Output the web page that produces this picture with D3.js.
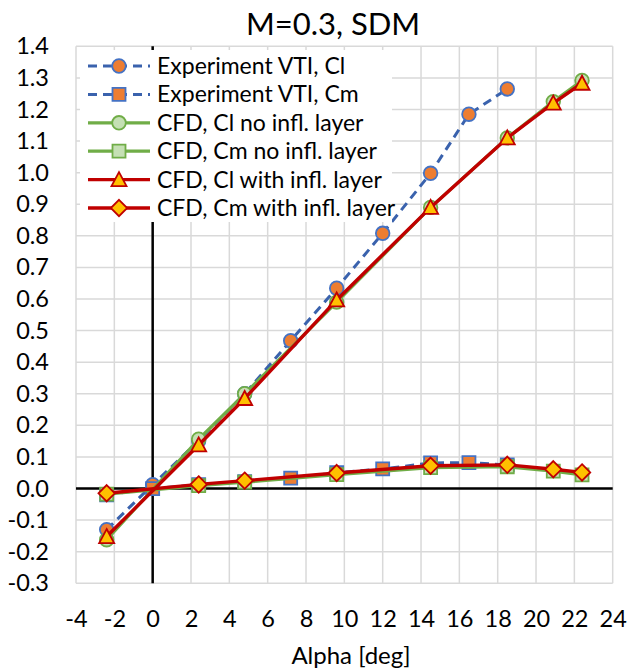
<!DOCTYPE html>
<html>
<head>
<meta charset="utf-8">
<script src="https://cdnjs.cloudflare.com/ajax/libs/d3/7.8.5/d3.min.js"></script>
<style>
  html, body { margin: 0; padding: 0; background: #fff; }
  svg { display: block; }
  text { font-family: Lato, "Open Sans", sans-serif; fill: #000; }
</style>
</head>
<body>
<svg id="chart" width="627" height="672"></svg>
<script>
// ---- data ----
const titleText = "M=0.3, SDM";
const xTitle = "Alpha [deg]";
const xTicks = [-4, -2, 0, 2, 4, 6, 8, 10, 12, 14, 16, 18, 20, 22, 24];
const yTicks = [-0.3, -0.2, -0.1, 0.0, 0.1, 0.2, 0.3, 0.4, 0.5, 0.6, 0.7, 0.8, 0.9, 1.0, 1.1, 1.2, 1.3, 1.4];

const alphaExp = [-2.4, 0, 2.4, 4.8, 7.2, 9.6, 12.0, 14.5, 16.5, 18.5];
const clExp = [-0.13, 0.012, 0.151, 0.30, 0.468, 0.634, 0.808, 0.998, 1.185, 1.265];
const cmExp = [-0.02, 0.0, 0.012, 0.022, 0.033, 0.05, 0.062, 0.081, 0.082, 0.075];

const alphaCfd = [-2.4, 2.4, 4.8, 9.6, 14.5, 18.5, 20.9, 22.4];
const clNoLayer = [-0.162, 0.156, 0.30, 0.59, 0.89, 1.11, 1.225, 1.292];
const cmNoLayer = [-0.018, 0.009, 0.02, 0.044, 0.066, 0.069, 0.055, 0.043];
const clWithLayer = [-0.152, 0.138, 0.285, 0.597, 0.89, 1.11, 1.22, 1.283];
const cmWithLayer = [-0.015, 0.013, 0.025, 0.049, 0.072, 0.075, 0.061, 0.051];

const seriesNames = [
  "Experiment VTI, Cl",
  "Experiment VTI, Cm",
  "CFD, Cl no infl. layer",
  "CFD, Cm no infl. layer",
  "CFD, Cl with infl. layer",
  "CFD, Cm with infl. layer"
];

// ---- styles ----
const styles = [
  {line: "#3a62ad", width: 3, dash: "9,6", marker: "circle", fill: "#ed7d31", stroke: "#4472c4"},
  {line: "#3a62ad", width: 3, dash: "9,6", marker: "square", fill: "#ed7d31", stroke: "#4472c4"},
  {line: "#70ad47", width: 3.2, dash: null, marker: "circle", fill: "#c5e0b4", stroke: "#70ad47"},
  {line: "#70ad47", width: 3.2, dash: null, marker: "square", fill: "#c5e0b4", stroke: "#70ad47"},
  {line: "#c00000", width: 3.4, dash: null, marker: "triangle", fill: "#ffc000", stroke: "#c00000"},
  {line: "#c00000", width: 3.4, dash: null, marker: "diamond", fill: "#ffc000", stroke: "#c00000"}
];

const series = [
  {x: alphaExp, y: clExp},
  {x: alphaExp, y: cmExp},
  {x: alphaCfd, y: clNoLayer},
  {x: alphaCfd, y: cmNoLayer},
  {x: alphaCfd, y: clWithLayer},
  {x: alphaCfd, y: cmWithLayer}
];

(function () {
const svg = d3.select("#chart");
const pLeft = 76, pRight = 612.7, pTop = 46.3, pBottom = 583.3;
const x = d3.scaleLinear().domain([-4, 24]).range([pLeft, pRight]);
const y = d3.scaleLinear().domain([-0.3, 1.4]).range([pBottom, pTop]);

// grid
const grid = svg.append("g");
grid.selectAll("line.v").data(xTicks).enter().append("line")
  .attr("x1", d => x(d)).attr("x2", d => x(d)).attr("y1", pTop).attr("y2", pBottom)
  .attr("stroke", "#d9d9d9").attr("stroke-width", 1.5);
grid.selectAll("line.h").data(yTicks).enter().append("line")
  .attr("x1", pLeft).attr("x2", pRight).attr("y1", d => y(d)).attr("y2", d => y(d))
  .attr("stroke", "#d9d9d9").attr("stroke-width", 1.5);

// zero axes
svg.append("line").attr("x1", pLeft).attr("x2", pRight).attr("y1", y(0)).attr("y2", y(0))
  .attr("stroke", "#000").attr("stroke-width", 2.5);
svg.append("line").attr("x1", x(0)).attr("x2", x(0)).attr("y1", pTop).attr("y2", pBottom)
  .attr("stroke", "#000").attr("stroke-width", 2.5);

// tick labels
const fmtY = d => (d < 0 ? "-" : "") + Math.abs(d).toFixed(1);
const fmtX = d => (d < 0 ? "-" : "") + Math.abs(d);
const yAxis = svg.append("g").attr("transform", "translate(49,0)")
  .call(d3.axisLeft(y).tickValues(yTicks).tickFormat(fmtY).tickSize(0).tickPadding(0));
yAxis.select(".domain").remove();
yAxis.selectAll("text").attr("font-size", 23.5).attr("font-family", "Lato").attr("fill", "#000");

const xAxis = svg.append("g").attr("transform", "translate(0,610)")
  .call(d3.axisBottom(x).tickValues(xTicks).tickFormat(fmtX).tickSize(0).tickPadding(0));
xAxis.select(".domain").remove();
xAxis.selectAll("text").attr("font-size", 23.5).attr("font-family", "Lato").attr("fill", "#000");

// markers
function markerPath(type) {
  if (type === "circle") return d3.symbol(d3.symbolCircle, Math.PI * 6.8 * 6.8)();
  if (type === "square") return "M-6.5,-6.5H6.5V6.5H-6.5Z";
  if (type === "triangle") return "M0,-7.5L7.5,6.5L-7.5,6.5Z";
  if (type === "diamond") return "M0,-8.2L8.2,0L0,8.2L-8.2,0Z";
}

const plot = svg.append("g");
series.forEach((s, i) => {
  const st = styles[i];
  const pts = s.x.map((v, k) => [v, s.y[k]]);
  const g = plot.append("g");
  g.append("path").datum(pts)
    .attr("d", d3.line().x(d => x(d[0])).y(d => y(d[1])))
    .attr("fill", "none").attr("stroke", st.line).attr("stroke-width", st.width)
    .attr("stroke-dasharray", st.dash).attr("stroke-linejoin", "round");
  g.selectAll("path.m").data(pts).enter().append("path")
    .attr("d", markerPath(st.marker))
    .attr("transform", d => `translate(${x(d[0])},${y(d[1])})`)
    .attr("fill", st.fill).attr("stroke", st.stroke).attr("stroke-width", 1.8);
});

// legend
const leg = svg.append("g");
leg.append("rect").attr("x", 80).attr("y", 50).attr("width", 312).attr("height", 172).attr("fill", "#fff");
seriesNames.forEach((name, i) => {
  const st = styles[i];
  const cy = 66 + i * 28.4;
  leg.append("line").attr("x1", 88).attr("x2", 150).attr("y1", cy).attr("y2", cy)
    .attr("stroke", st.line).attr("stroke-width", st.width).attr("stroke-dasharray", st.dash);
  leg.append("path").attr("d", markerPath(st.marker))
    .attr("transform", `translate(119,${cy})`)
    .attr("fill", st.fill).attr("stroke", st.stroke).attr("stroke-width", 1.8);
  leg.append("text").attr("x", 157).attr("y", cy).attr("dy", "0.35em")
    .attr("font-size", 23).text(name);
});

// titles
svg.append("text").attr("x", 333).attr("y", 35).attr("text-anchor", "middle")
  .attr("font-size", 31).text(titleText);
svg.append("text").attr("x", 351).attr("y", 664).attr("text-anchor", "middle")
  .attr("font-size", 24).text(xTitle);
})();
</script>
</body>
</html>
